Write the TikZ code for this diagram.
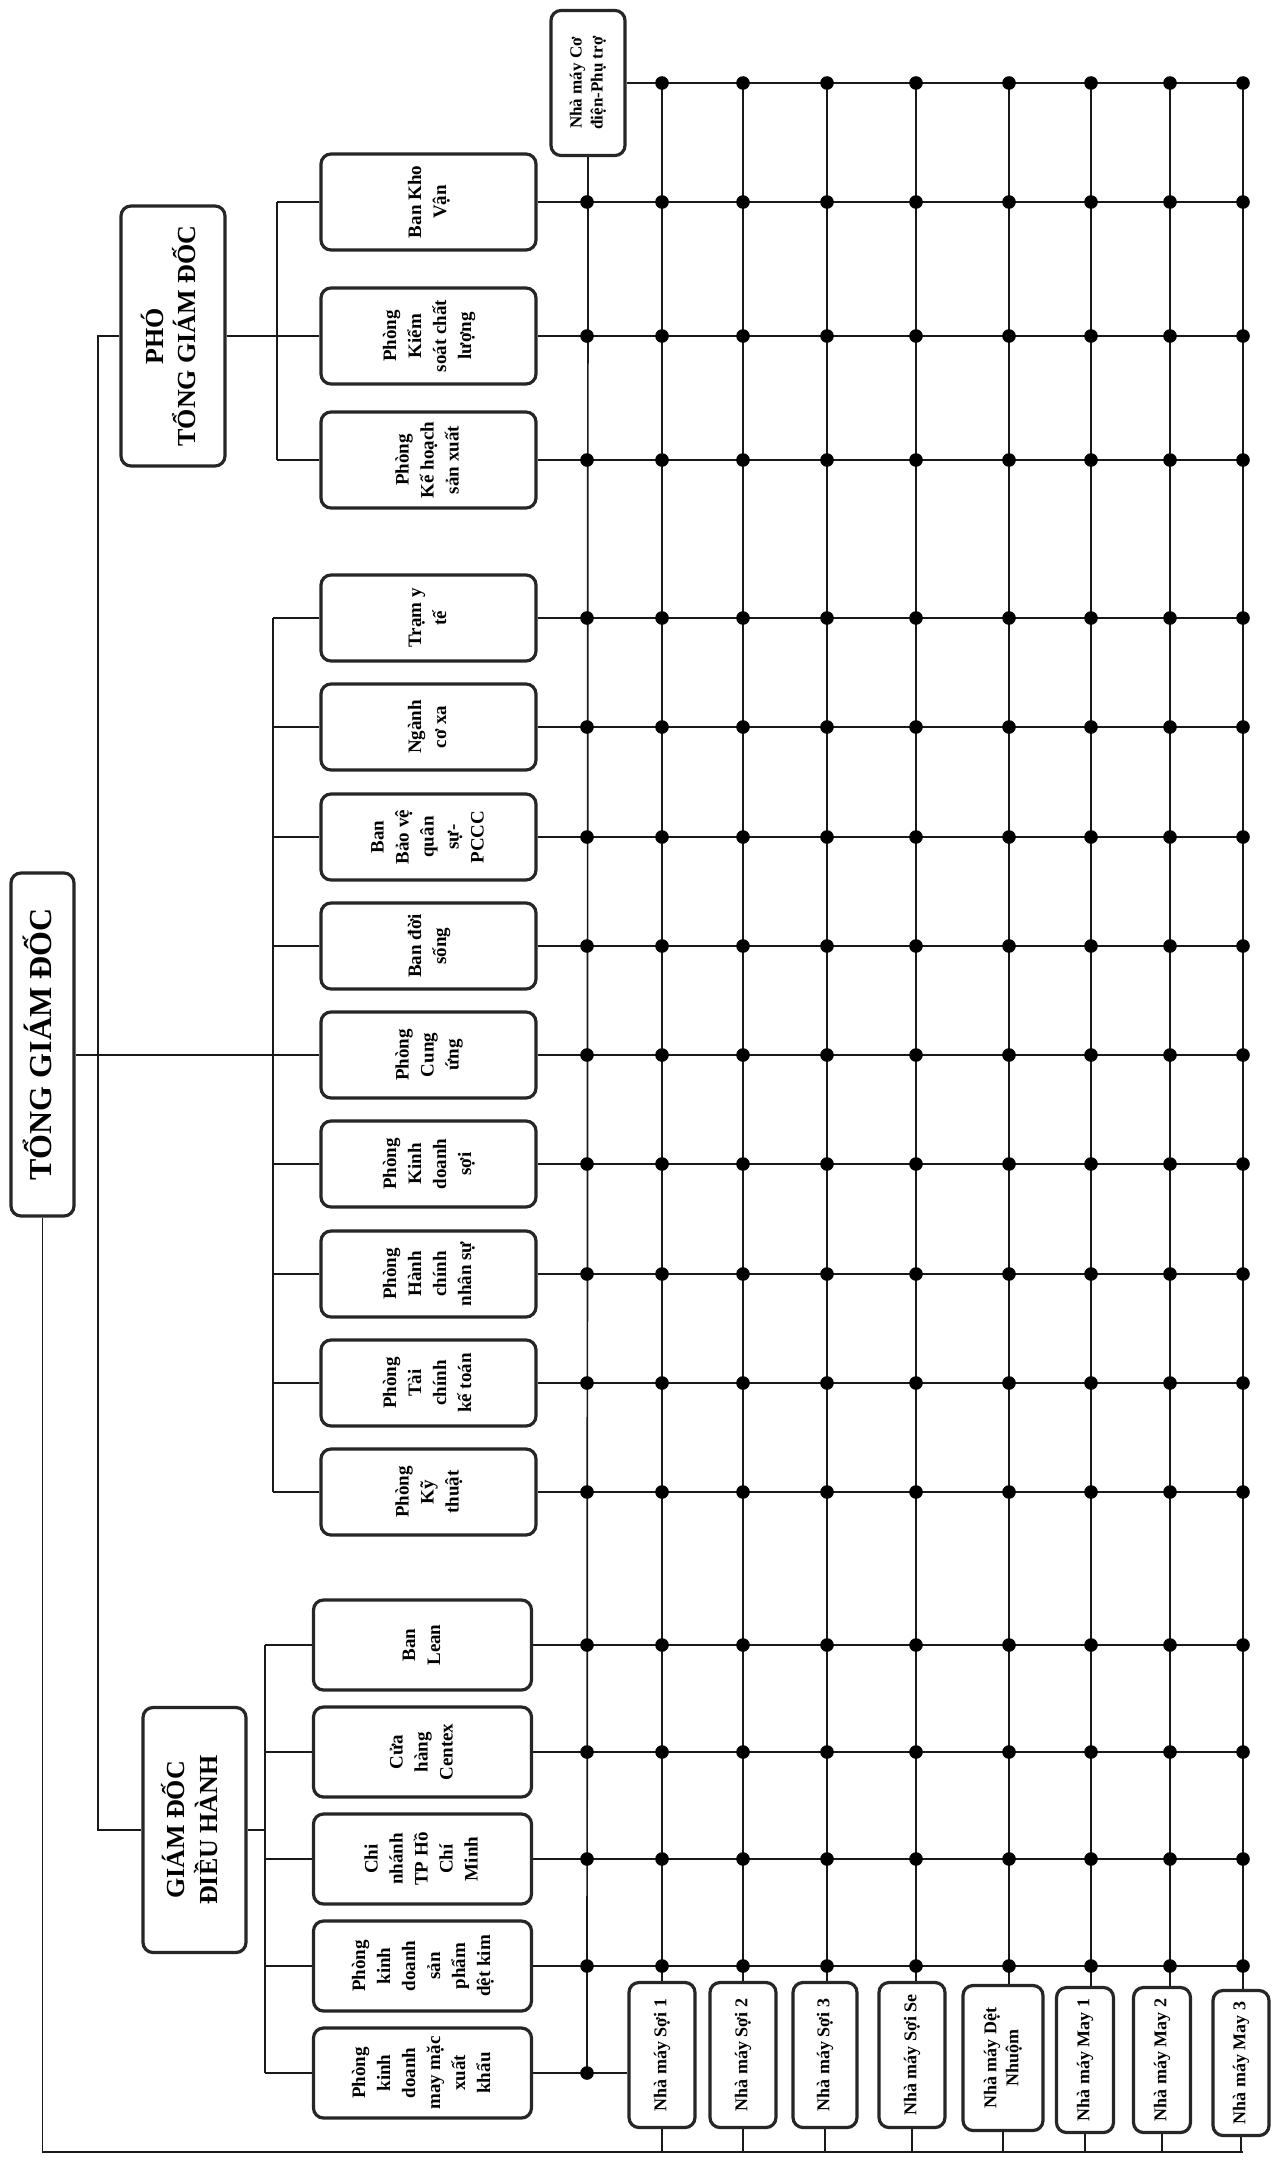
\documentclass[tikz,border=0pt]{standalone}
\usepackage{fontspec}
\setmainfont{Liberation Serif}
\usepackage{graphicx}
\newcommand{\rtxt}[1]{\rotatebox{90}{\begin{tabular}{@{}c@{}}#1\end{tabular}}}
\begin{document}
\begin{tikzpicture}[x=0.5pt,y=-0.5pt,
  box/.style={draw=black!85, line width=1.6pt, rounded corners=5pt, inner sep=0pt, fill=white},
  dept/.style={box, minimum width=107.5pt, minimum height=43pt, font=\bfseries\fontsize{9.5}{12.5}\selectfont},
  deptp/.style={dept, minimum height=48pt},
  deptg/.style={dept, minimum width=109pt, minimum height=45pt},
  chief/.style={box, font=\bfseries\fontsize{13}{16}\selectfont},
  plant/.style={box, minimum height=72.5pt, font=\bfseries\fontsize{9}{11}\selectfont},
  conn/.style={line width=0.85pt, black!90},
  jdot/.style={circle, fill=black, inner sep=0pt, minimum size=6.8pt}]
\fill[white] (0,0) rectangle (1274,2168);
\useasboundingbox (0,0) rectangle (1274,2168);

% column coordinates
\foreach \c [count=\i] in {587,662,743,827,916,1009,1091,1170,1243}
  \coordinate (c\i) at (\c,83);
\coordinate (busP) at (277,0);
\coordinate (busC) at (273,0);
\coordinate (busG) at (265,0);
\coordinate (vl) at (98,0);
\coordinate (bot) at (0,2152);

% top-level boxes
\node[chief, minimum width=31.5pt, minimum height=171.5pt, font=\bfseries\fontsize{16}{19}\selectfont] (tgd) at (42.5,1044.5) {\rtxt{TỔNG GIÁM ĐỐC}};
\node[chief, minimum width=52pt, minimum height=130pt] (pho) at (173,336) {\rtxt{PHÓ\\TỔNG GIÁM ĐỐC}};
\node[chief, minimum width=51.5pt, minimum height=122.5pt] (gd) at (194.5,1830) {\rtxt{GIÁM ĐỐC\\ĐIỀU HÀNH}};

% PHO group
\node[deptp] (kv) at (428.5,202) {\rtxt{Ban Kho\\Vận}};
\node[deptp] (ks) at (428.5,336) {\rtxt{Phòng\\Kiểm\\soát chất\\lượng}};
\node[deptp] (kh) at (428.5,460) {\rtxt{Phòng\\Kế hoạch\\sản xuất}};

% central group
\node[dept] (tyt) at (428.5,618) {\rtxt{Trạm y\\tế}};
\node[dept] (ncx) at (428.5,727) {\rtxt{Ngành\\cơ xa}};
\node[dept] (bv) at (428.5,837) {\rtxt{Ban\\Bảo vệ\\quân\\sự-\\PCCC}};
\node[dept] (bds) at (428.5,946) {\rtxt{Ban đời\\sống}};
\node[dept] (cu) at (428.5,1055) {\rtxt{Phòng\\Cung\\ứng}};
\node[dept] (kds) at (428.5,1164) {\rtxt{Phòng\\Kinh\\doanh\\sợi}};
\node[dept] (hc) at (428.5,1274) {\rtxt{Phòng\\Hành\\chính\\nhân sự}};
\node[dept] (tc) at (428.5,1383) {\rtxt{Phòng\\Tài\\chính\\kế toán}};
\node[dept] (kt) at (428.5,1492) {\rtxt{Phòng\\Kỹ\\thuật}};

% GDDH group
\node[deptg] (ln) at (422.5,1645) {\rtxt{Ban\\Lean}};
\node[deptg] (ch) at (422.5,1752) {\rtxt{Cửa\\hàng\\Centex}};
\node[deptg] (cn) at (422.5,1859) {\rtxt{Chi\\nhánh\\TP Hồ\\Chí\\Minh}};
\node[deptg] (dk) at (422.5,1966) {\rtxt{Phòng\\kinh\\doanh\\sản\\phẩm\\dệt kim}};
\node[deptg] (mm) at (422.5,2073) {\rtxt{Phòng\\kinh\\doanh\\may mặc\\xuất\\khẩu}};

% plants
\node[plant, minimum width=37pt, font=\bfseries\fontsize{8.5}{10.5}\selectfont] (cd) at (588,83) {\rtxt{Nhà máy Cơ\\điện-Phụ trợ}};
\node[plant, minimum width=33pt] (nm2) at (662,2055) {\rtxt{Nhà máy Sợi 1}};
\node[plant, minimum width=33pt] (nm3) at (743,2055) {\rtxt{Nhà máy Sợi 2}};
\node[plant, minimum width=32pt] (nm4) at (825,2055) {\rtxt{Nhà máy Sợi 3}};
\node[plant, minimum width=33pt] (nm5) at (912,2055) {\rtxt{Nhà máy Sợi Se}};
\node[plant, minimum width=40pt] (nm6) at (1003,2058) {\rtxt{Nhà máy Dệt\\Nhuộm}};
\node[plant, minimum width=28.5pt] (nm7) at (1085,2060) {\rtxt{Nhà máy May 1}};
\node[plant, minimum width=28.5pt] (nm8) at (1162,2060) {\rtxt{Nhà máy May 2}};
\node[plant, minimum width=28pt] (nm9) at (1241,2063) {\rtxt{Nhà máy May 3}};

% tree connectors
\draw[conn] (tgd.east |- cu) -- (busC |- cu);
\draw[conn] (pho.west) -- (pho.west -| vl) -- (vl |- gd.west) -- (gd.west);
\draw[conn] (pho.east) -- (pho.east -| busP);
\draw[conn] (busP |- kv) -- (busP |- kh);
\foreach \n in {kv,ks,kh} \draw[conn] (busP |- \n) -- (\n.west);
\draw[conn] (busC |- tyt) -- (busC |- kt);
\foreach \n in {tyt,ncx,bv,bds,cu,kds,hc,tc,kt} \draw[conn] (busC |- \n) -- (\n.west);
\draw[conn] (gd.east) -- (gd.east -| busG);
\draw[conn] (busG |- ln) -- (busG |- mm);
\foreach \n in {ln,ch,cn,dk,mm} \draw[conn] (busG |- \n) -- (\n.west);

% bottom bus
\draw[conn] (tgd.south) -- (tgd.south |- bot) -- (c9 |- bot);
\foreach \i in {2,...,9} \draw[conn] (nm\i.south) -- (nm\i.south |- bot);

% grid
\draw[conn] (cd.east) -- (cd.east -| c9);
\draw[conn] (cd.south) -- (c1 |- mm.east);
\foreach \i in {2,...,9} \draw[conn] (c\i) -- (c\i |- nm\i.north);
\foreach \n in {kv,ks,kh,tyt,ncx,bv,bds,cu,kds,hc,tc,kt,ln,ch,cn,dk}
  \draw[conn] (\n.east) -- (\n.east -| c9);
\draw[conn] (mm.east) -- (mm.east -| nm2.west);

% junction dots
\foreach \i in {2,...,9} \node[jdot] (dcd-\i) at (c\i) {};
\foreach \n in {kv,ks,kh,tyt,ncx,bv,bds,cu,kds,hc,tc,kt,ln,ch,cn,dk}
  \foreach \i in {1,...,9} \node[jdot] (d\n-\i) at (\n.east -| c\i) {};
\node[jdot] (dmm-1) at (mm.east -| c1) {};
\end{tikzpicture}
\end{document}
